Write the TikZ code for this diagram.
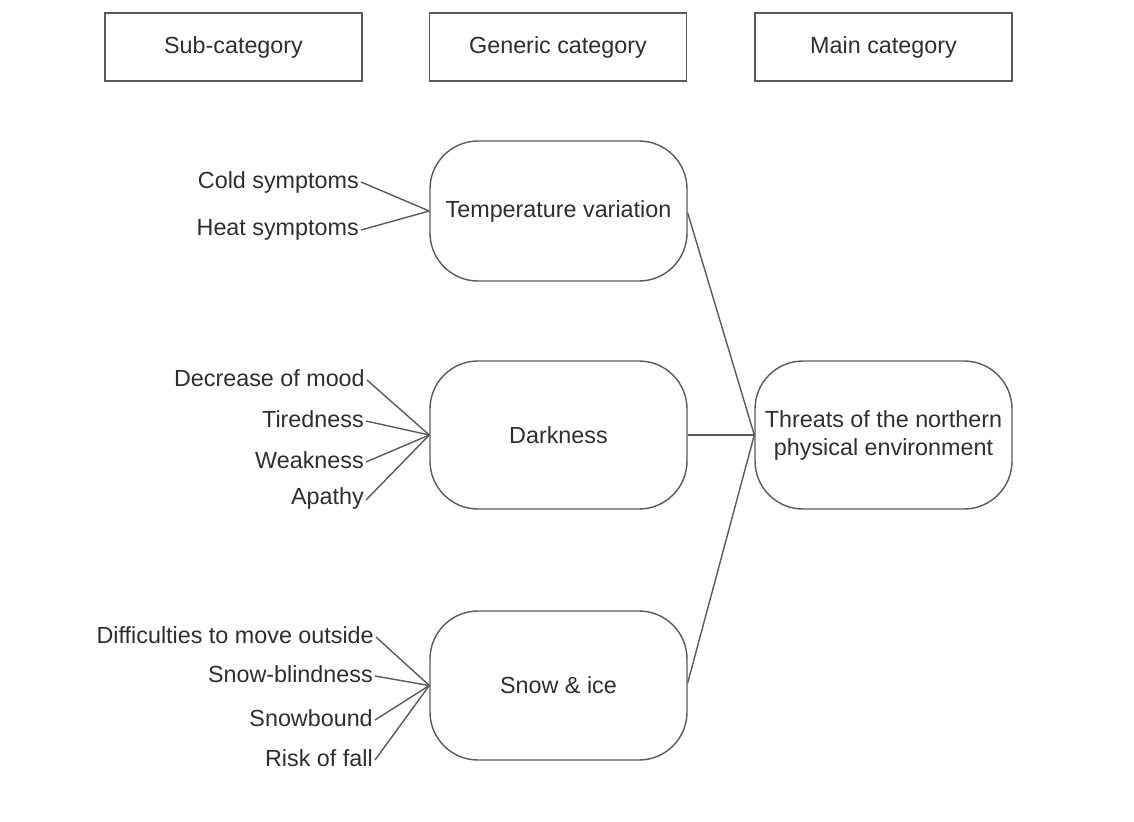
\documentclass[tikz,border=0pt]{standalone}
\usepackage{fontspec}
\setmainfont{Liberation Sans}
\definecolor{txt}{HTML}{2E2E2E}
\definecolor{ln}{HTML}{5A5A5A}
\begin{document}
\begin{tikzpicture}[x=0.75pt,y=-0.75pt,
  every node/.style={font=\fontsize{17.5}{21}\selectfont, text=txt},
  hdr/.style={draw=ln, line width=1.05pt, minimum width=192.75pt, minimum height=51pt, inner sep=0pt},
  rbox/.style={draw=ln, line width=1.05pt, rounded corners=36pt, minimum width=192.75pt, inner sep=0pt, align=center},
  lbl/.style={anchor=east, inner sep=0pt},
  conn/.style={draw=ln, line width=1.05pt}]
\useasboundingbox (0,0) rectangle (1134,821);
% header boxes
\node[hdr] (h1) at (233.5,47) {Sub-category};
\node[hdr] (h2) at (558,47) {Generic category};
\node[hdr] (h3) at (883.5,47) {Main category};
% rounded boxes
\node[rbox, minimum height=105pt] (temp) at (558.5,211) {Temperature variation};
\node[rbox, minimum height=111pt] (dark) at (558.5,435) {Darkness};
\node[rbox, minimum height=111.75pt] (snow) at (558.5,685.5) {Snow \& ice};
\node[rbox, minimum height=111pt] (threat) at (883.5,435) {Threats of the northern\\physical environment};
% sub-category labels
\node[lbl] (c1) at (359,182) {Cold symptoms};
\node[lbl] (c2) at (359,230) {Heat symptoms};
\node[lbl] (d1) at (365,378) {Decrease of mood};
\node[lbl] (d2) at (364,419) {Tiredness};
\node[lbl] (d3) at (364,460) {Weakness};
\node[lbl] (d4) at (364,498) {Apathy};
\node[lbl] (s1) at (374,635) {Difficulties to move outside};
\node[lbl] (s2) at (373,674) {Snow-blindness};
\node[lbl] (s3) at (373,718) {Snowbound};
\node[lbl] (s4) at (373,758) {Risk of fall};
% connectors
\foreach \a in {c1,c2} \draw[conn] ([xshift=1.5pt]\a.east) -- (temp.west);
\foreach \a in {d1,d2,d3,d4} \draw[conn] ([xshift=1.5pt,yshift=-1.5pt]\a.east) -- (dark.west);
\foreach \a in {s1,s2,s3,s4} \draw[conn] ([xshift=1.5pt,yshift=-1.5pt]\a.east) -- (snow.west);
\draw[conn] ([yshift=-1.5pt]temp.east) -- (threat.west);
\draw[conn] (dark.east) -- (threat.west);
\draw[conn] ([yshift=2pt]snow.east) -- (threat.west);
\end{tikzpicture}
\end{document}
